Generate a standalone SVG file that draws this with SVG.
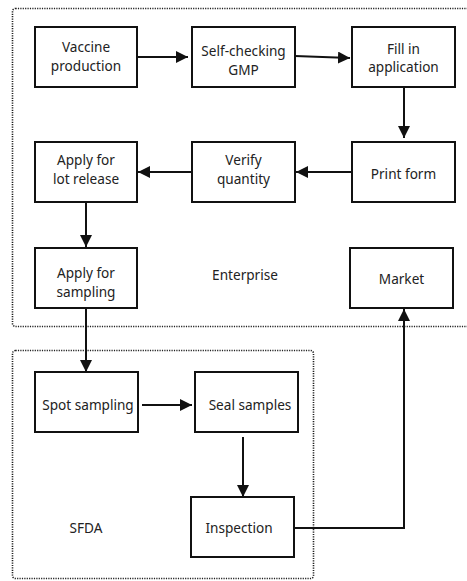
<svg xmlns="http://www.w3.org/2000/svg" width="467" height="581" viewBox="0 0 467 581">
<style>
.box{fill:#fff;stroke:#111;stroke-width:2}
.grp{fill:none;stroke:#222;stroke-width:1.6;stroke-dasharray:1.2 1.2}
text{font-family:"Noto Sans","Open Sans",sans-serif;font-size:13.6px;fill:#222;text-anchor:middle}
.ln{fill:none;stroke:#111;stroke-width:2}
</style>
<defs>
<marker id="a" viewBox="0 0 12 12" refX="12" refY="6" markerWidth="12" markerHeight="12" markerUnits="userSpaceOnUse" orient="auto">
<path d="M0,0 L12,6 L0,12 z" fill="#111"/>
</marker>
</defs>
<g id="enterprise">
<rect class="grp" x="12.5" y="8.5" width="470" height="318" rx="3"/>
<text x="245" y="280">Enterprise</text>
</g>
<g id="sfda">
<rect class="grp" x="12.5" y="350.5" width="301" height="228" rx="3"/>
<text x="86" y="533">SFDA</text>
</g>
<g id="connectors">
<path class="ln" d="M137,57 H188" marker-end="url(#a)"/>
<path class="ln" d="M295,56 L350,58" marker-end="url(#a)"/>
<path class="ln" d="M404,87 V138" marker-end="url(#a)"/>
<path class="ln" d="M352,172 H296" marker-end="url(#a)"/>
<path class="ln" d="M192,172 H138" marker-end="url(#a)"/>
<path class="ln" d="M86,202 V247" marker-end="url(#a)"/>
<path class="ln" d="M86,308 V372" marker-end="url(#a)"/>
<path class="ln" d="M142,405 H192" marker-end="url(#a)"/>
<path class="ln" d="M243,437 V497" marker-end="url(#a)"/>
<path class="ln" d="M294,528 H404 V309" marker-end="url(#a)"/>
</g>
<g id="vaccine"><rect class="box" x="35" y="27" width="102" height="60"/><text x="86" y="52.2">Vaccine</text><text x="86" y="70.8">production</text></g>
<g id="selfcheck"><rect class="box" x="192" y="27" width="103" height="60"/><text x="243.5" y="56.2">Self-checking</text><text x="243.5" y="74.8">GMP</text></g>
<g id="fill"><rect class="box" x="352" y="27" width="103" height="60"/><text x="403.5" y="53.7">Fill in</text><text x="403.5" y="72.3">application</text></g>
<g id="lot"><rect class="box" x="35" y="142" width="102" height="60"/><text x="86" y="165.2">Apply for</text><text x="86" y="183.8">lot release</text></g>
<g id="verify"><rect class="box" x="192" y="142" width="103" height="60"/><text x="243.5" y="165.2">Verify</text><text x="243.5" y="183.8">quantity</text></g>
<g id="print"><rect class="box" x="352" y="142" width="103" height="60"/><text x="403.5" y="179">Print form</text></g>
<g id="sampling"><rect class="box" x="35" y="248" width="102" height="60"/><text x="86" y="278.2">Apply for</text><text x="86" y="296.8">sampling</text></g>
<g id="market"><rect class="box" x="350" y="248" width="103" height="60"/><text x="401.5" y="284">Market</text></g>
<g id="spot"><rect class="box" x="35" y="372" width="103" height="60"/><text x="88" y="410">Spot sampling</text></g>
<g id="seal"><rect class="box" x="195" y="372" width="103" height="60"/><text x="250" y="410">Seal samples</text></g>
<g id="inspection"><rect class="box" x="191" y="497" width="103" height="60"/><text x="239" y="533">Inspection</text></g>
</svg>
